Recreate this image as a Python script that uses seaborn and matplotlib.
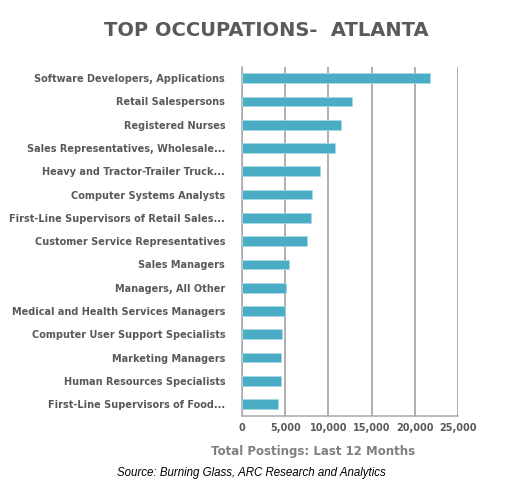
import numpy as np
import pandas as pd
import matplotlib
matplotlib.use("Agg")
import matplotlib.pyplot as plt
import seaborn as sns

# data
occupations = [
    "Software Developers, Applications",
    "Retail Salespersons",
    "Registered Nurses",
    "Sales Representatives, Wholesale...",
    "Heavy and Tractor-Trailer Truck...",
    "Computer Systems Analysts",
    "First-Line Supervisors of Retail Sales...",
    "Customer Service Representatives",
    "Sales Managers",
    "Managers, All Other",
    "Medical and Health Services Managers",
    "Computer User Support Specialists",
    "Marketing Managers",
    "Human Resources Specialists",
    "First-Line Supervisors of Food...",
]
postings = [21700, 12700, 11400, 10700, 9000, 8100, 8000, 7500,
            5400, 5150, 5000, 4600, 4500, 4480, 4200]
xticks = [0, 5000, 10000, 15000, 20000, 25000]

df = pd.DataFrame({"occ": occupations, "n": postings})

sns.set_style("white")
plt.rcParams["font.family"] = ["DejaVu Sans"]

grey = "#595959"
fig = plt.figure(figsize=(5.06, 5.04), dpi=100)
ax = fig.add_axes([0.478, 0.175, 0.428, 0.693])

sns.barplot(data=df, x="n", y="occ", orient="h", color="#4BACC6",
            width=0.42, saturation=1, ax=ax, zorder=3,
            edgecolor="#a8d8e6", linewidth=0.6)

ax.set_xlim(0, 25000)
ax.set_ylim(len(occupations) - 0.5, -0.5)
ax.set_xticks(xticks)
ax.set_xticklabels([f"{v:,}" for v in xticks], fontsize=7, fontweight="bold", color=grey)
ax.set_yticks(range(len(occupations)))
ax.set_yticklabels(occupations, fontsize=7, fontweight="bold", color=grey)
ax.tick_params(axis="y", length=0, pad=12)
ax.tick_params(axis="x", length=0, pad=5)
# little ticks between the categories on the left axis
ax.set_yticks(np.arange(-0.5, len(occupations), 1), minor=True)
ax.tick_params(axis="y", which="minor", length=4, color="#a0a0a0", width=1)

ax.grid(axis="x", color="#9a9a9a", linewidth=1.1, zorder=0)
ax.set_axisbelow(True)
for s in ["top", "right"]:
    ax.spines[s].set_visible(False)
for s in ["left", "bottom"]:
    ax.spines[s].set_color("#a8a8a8")
    ax.spines[s].set_linewidth(1.1)

ax.set_ylabel("")
ax.set_xlabel("Total Postings: Last 12 Months", fontsize=8.5, fontweight="bold",
              color="#7f7f7f")
ax.xaxis.set_label_coords(0.33, -0.085)

fig.text(0.527, 0.94, "TOP OCCUPATIONS-  ATLANTA", ha="center", va="center",
         fontsize=14, fontweight="bold", color="#5a5a5a")
fig.text(0.231, 0.061, "Source: Burning Glass, ARC Research and Analytics",
         ha="left", va="center", fontsize=8.3, style="italic", color="black",
         family=["Liberation Sans"])

fig.savefig("out.png", dpi=100, facecolor="white")
